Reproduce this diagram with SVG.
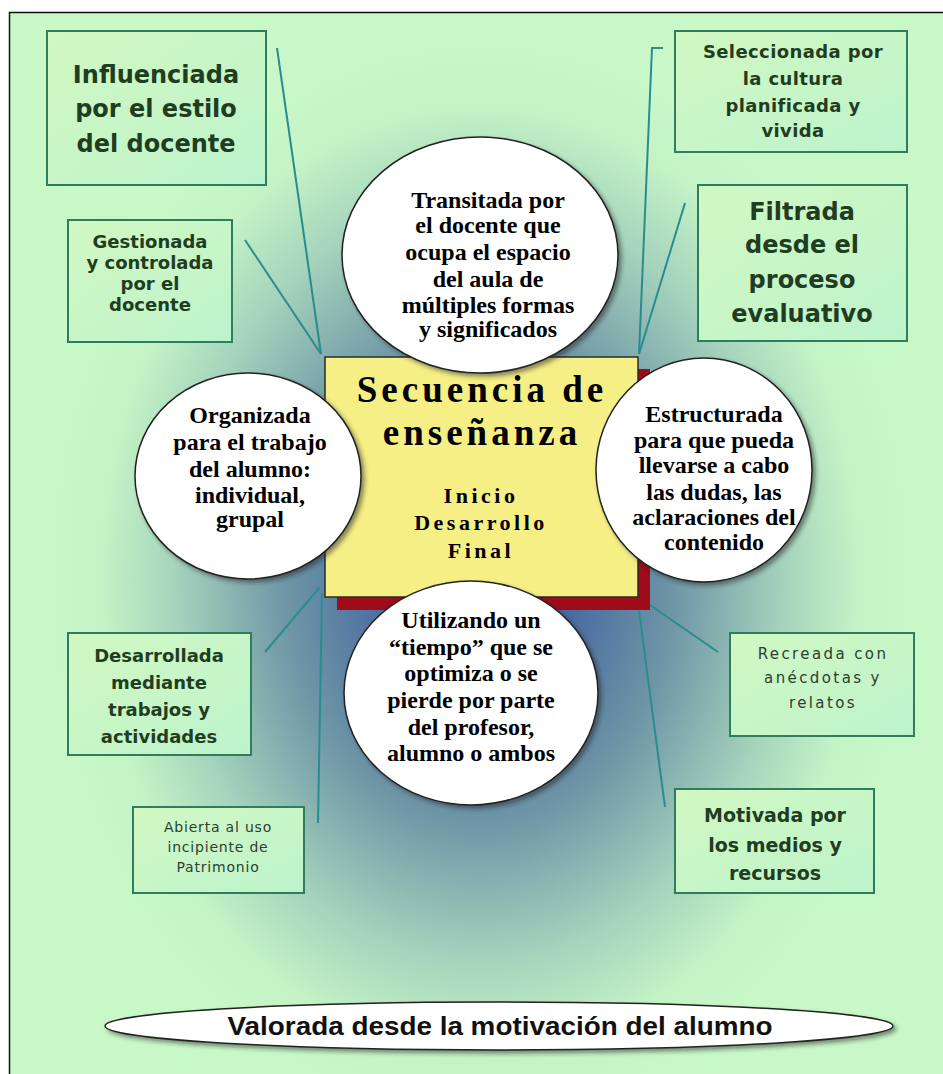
<svg xmlns="http://www.w3.org/2000/svg" width="943" height="1074" viewBox="0 0 943 1074">
<defs>
<radialGradient id="bg" gradientUnits="userSpaceOnUse" cx="480" cy="580" r="540" gradientTransform="translate(480 580) scale(0.8 1) translate(-480 -580)">
<stop offset="0" stop-color="#3a56a0"/>
<stop offset="0.2" stop-color="#4668a0"/>
<stop offset="0.45" stop-color="#6e96a6"/>
<stop offset="0.7" stop-color="#a4d2bc"/>
<stop offset="0.88" stop-color="#c4f4c6"/>
<stop offset="1" stop-color="#c8f8c8"/>
</radialGradient>
<linearGradient id="boxg" x1="0" y1="0" x2="1" y2="1">
<stop offset="0" stop-color="#d2f8c2"/>
<stop offset="1" stop-color="#bdf3cc"/>
</linearGradient>
<filter id="sh" x="-10%" y="-10%" width="125%" height="125%">
<feDropShadow dx="3" dy="3" stdDeviation="2" flood-color="#222" flood-opacity="0.5"/>
</filter>
<style>
.box{fill:url(#boxg);stroke:#2f7d5c;stroke-width:2}
.bt{font-family:"DejaVu Sans",sans-serif;font-weight:bold;fill:#1f3d20;text-anchor:middle}
.nt{font-family:"DejaVu Sans",sans-serif;fill:#2c4030;text-anchor:middle}
.circ{fill:#ffffff;stroke:#222;stroke-width:1.5;filter:url(#sh)}
.ct{font-family:"Liberation Serif","Times New Roman",serif;font-weight:bold;font-size:24px;fill:#000;text-anchor:middle}
.ln{stroke:#2a8c8e;stroke-width:2;fill:none}
</style>
</defs>
<rect x="0" y="0" width="943" height="1074" fill="#ffffff"/>
<rect x="9.5" y="12.5" width="940" height="1070" fill="url(#bg)" stroke="#111" stroke-width="1.5"/>

<g id="connectors">
<line class="ln" x1="277" y1="48" x2="321" y2="354"/>
<line class="ln" x1="245" y1="240" x2="321" y2="354"/>
<polyline class="ln" points="663,48 652,48 639,354"/>
<line class="ln" x1="685" y1="203" x2="639" y2="354"/>
<line class="ln" x1="265" y1="652" x2="320" y2="587"/>
<line class="ln" x1="322" y1="593" x2="318" y2="823"/>
<line class="ln" x1="650" y1="605" x2="718" y2="652"/>
<line class="ln" x1="639" y1="611" x2="665" y2="807"/>
</g>

<g id="n-influenciada">
<rect class="box" x="47" y="31" width="219" height="154"/>
<text class="bt" font-size="24"><tspan x="156" y="83">Influenciada</tspan><tspan x="156" y="117">por el estilo</tspan><tspan x="156" y="152">del docente</tspan></text>
</g>

<g id="n-gestionada">
<rect class="box" x="68" y="220" width="164" height="122"/>
<text class="bt" font-size="18"><tspan x="150" y="248">Gestionada</tspan><tspan x="150" y="269">y controlada</tspan><tspan x="150" y="290">por el</tspan><tspan x="150" y="311">docente</tspan></text>
</g>

<g id="n-seleccionada">
<rect class="box" x="675" y="31" width="232" height="121"/>
<text class="bt" font-size="18" letter-spacing="0.4"><tspan x="793" y="58">Seleccionada por</tspan><tspan x="793" y="85">la cultura</tspan><tspan x="793" y="112">planificada y</tspan><tspan x="793" y="137">vivida</tspan></text>
</g>

<g id="n-filtrada">
<rect class="box" x="698" y="185" width="209" height="156"/>
<text class="bt" font-size="24"><tspan x="802" y="220">Filtrada</tspan><tspan x="802" y="253">desde el</tspan><tspan x="802" y="288">proceso</tspan><tspan x="802" y="322">evaluativo</tspan></text>
</g>

<g id="n-desarrollada">
<rect class="box" x="68" y="633" width="183" height="122"/>
<text class="bt" font-size="18"><tspan x="159" y="662">Desarrollada</tspan><tspan x="159" y="689">mediante</tspan><tspan x="159" y="716">trabajos y</tspan><tspan x="159" y="743">actividades</tspan></text>
</g>

<g id="n-abierta">
<rect class="box" x="133" y="807" width="171" height="86"/>
<text class="nt" font-size="14" letter-spacing="0.8"><tspan x="218" y="832">Abierta al uso</tspan><tspan x="218" y="852">incipiente de</tspan><tspan x="218" y="872">Patrimonio</tspan></text>
</g>

<g id="n-recreada">
<rect class="box" x="730" y="633" width="184" height="103"/>
<text class="nt" font-size="15" letter-spacing="2.4"><tspan x="823" y="659">Recreada con</tspan><tspan x="823" y="683">anécdotas y</tspan><tspan x="823" y="708">relatos</tspan></text>
</g>

<g id="n-motivada">
<rect class="box" x="675" y="789" width="199" height="104"/>
<text class="bt" font-size="19"><tspan x="775" y="822">Motivada por</tspan><tspan x="775" y="852">los medios y</tspan><tspan x="775" y="880">recursos</tspan></text>
</g>

<g id="n-secuencia">
<rect x="337" y="369" width="313" height="241" fill="#9e0c1a"/>
<rect x="325" y="357" width="313" height="240" fill="#f6ef86" stroke="#2a2a2a" stroke-width="1.5"/>
<text font-family="'Liberation Serif','Times New Roman',serif" font-weight="bold" font-size="37" letter-spacing="4" text-anchor="middle" fill="#000"><tspan x="482" y="402">Secuencia de</tspan><tspan x="482" y="445">enseñanza</tspan></text>
<text font-family="'Liberation Serif','Times New Roman',serif" font-weight="bold" font-size="22" letter-spacing="3.5" text-anchor="middle" fill="#000"><tspan x="481" y="503">Inicio</tspan><tspan x="481" y="530">Desarrollo</tspan><tspan x="481" y="558">Final</tspan></text>
</g>

<g id="n-transitada">
<ellipse class="circ" cx="480" cy="255" rx="138" ry="118"/>
<text class="ct" font-size="25"><tspan x="488" y="208">Transitada por</tspan><tspan x="488" y="233">el docente que</tspan><tspan x="488" y="260">ocupa el espacio</tspan><tspan x="488" y="287">del aula de</tspan><tspan x="488" y="313">múltiples formas</tspan><tspan x="488" y="337">y significados</tspan></text>
</g>

<g id="n-organizada">
<ellipse class="circ" cx="248" cy="476" rx="113" ry="103"/>
<text class="ct"><tspan x="250" y="423">Organizada</tspan><tspan x="250" y="450">para el trabajo</tspan><tspan x="250" y="477">del alumno:</tspan><tspan x="250" y="503">individual,</tspan><tspan x="250" y="527">grupal</tspan></text>
</g>

<g id="n-estructurada">
<ellipse class="circ" cx="704" cy="470" rx="108" ry="112"/>
<text class="ct"><tspan x="714" y="422">Estructurada</tspan><tspan x="714" y="448">para que pueda</tspan><tspan x="714" y="473">llevarse a cabo</tspan><tspan x="714" y="500">las dudas, las</tspan><tspan x="714" y="525">aclaraciones del</tspan><tspan x="714" y="550">contenido</tspan></text>
</g>

<g id="n-utilizando">
<ellipse class="circ" cx="471" cy="693" rx="127" ry="112"/>
<text class="ct" font-size="25"><tspan x="471" y="628">Utilizando un</tspan><tspan x="471" y="655">“tiempo” que se</tspan><tspan x="471" y="681">optimiza o se</tspan><tspan x="471" y="708">pierde por parte</tspan><tspan x="471" y="735">del profesor,</tspan><tspan x="471" y="761">alumno o ambos</tspan></text>
</g>

<g id="n-valorada">
<ellipse cx="499" cy="1026" rx="394" ry="24" fill="#ffffff" stroke="#222" stroke-width="1.5" filter="url(#sh)"/>
<text x="500" y="1035" font-family="'Liberation Sans',Arial,sans-serif" font-weight="bold" font-size="25" fill="#111" text-anchor="middle" textLength="545" lengthAdjust="spacingAndGlyphs">Valorada desde la motivación del alumno</text>
</g>
</svg>
